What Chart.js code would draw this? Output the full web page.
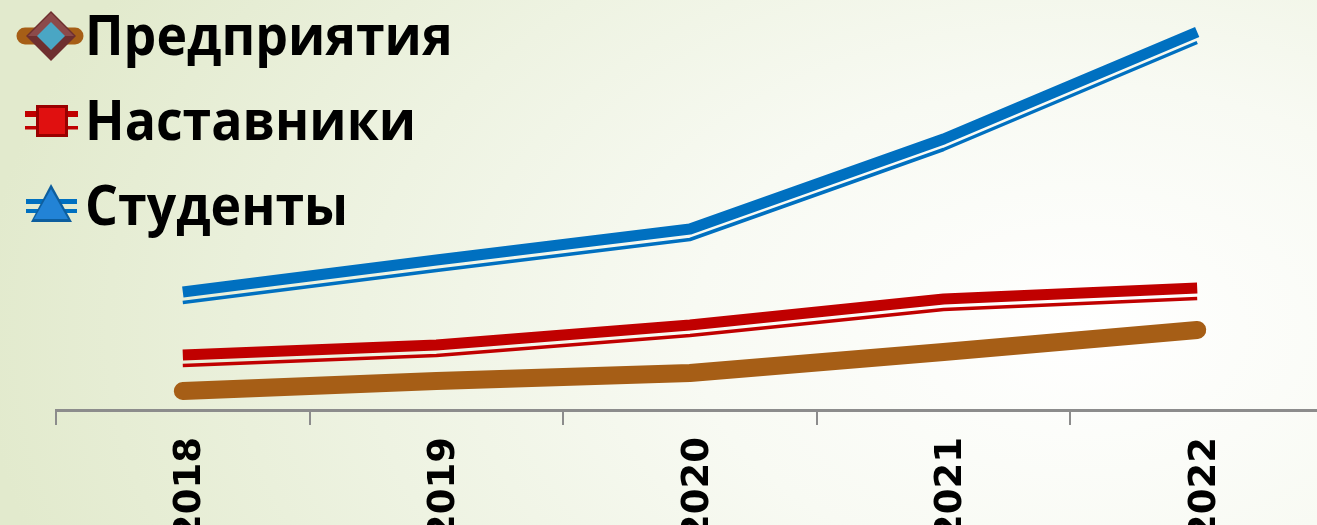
<!DOCTYPE html>
<html>
<head>
<meta charset="utf-8">
<script src="https://cdn.jsdelivr.net/npm/chart.js@4"></script>
<style>
    html, body { margin: 0; padding: 0; }
    body {
        width: 1317px; height: 525px; overflow: hidden;
        background: radial-gradient(ellipse 1100px 700px at 1080px 330px, #ffffff 0%, #f8faf3 35%, #eef3e2 65%, #e2eacd 100%);
    }
    #wrap { position: relative; width: 1317px; height: 525px; overflow: hidden; }
</style>
</head>
<body>
<div id="wrap"><canvas id="chartCanvas" width="1340" height="560"></canvas></div>
<script>
var years = ["2018", "2019", "2020", "2021", "2022"];
var enterprises = [19, 29, 37, 58, 80];      // Предприятия
var mentors = [55, 65, 85, 111, 122];        // Наставники
var students = [118, 150, 181, 271, 378];    // Студенты

var colors = {
    brown: 'rgb(166, 94, 22)',
    red: 'rgb(192, 0, 0)',
    blue: 'rgb(0, 112, 192)'
};

// thin second line under the thick one
var doubleLine = {
    id: 'doubleLine',
    afterDatasetsDraw: function (chart) {
        var ctx = chart.ctx;
        chart.data.datasets.forEach(function (ds, i) {
            if (!ds.thinLine) return;
            var pts = chart.getDatasetMeta(i).data;
            ctx.save();
            ctx.strokeStyle = ds.borderColor;
            ctx.lineWidth = 3.5;
            ctx.lineJoin = 'round';
            ctx.beginPath();
            pts.forEach(function (p, j) {
                if (j === 0) ctx.moveTo(p.x, p.y + 10.5);
                else ctx.lineTo(p.x, p.y + 10.5);
            });
            ctx.stroke();
            ctx.restore();
        });
    }
};

// legend in top-left corner, drawn over chart area
var cornerLegend = {
    id: 'cornerLegend',
    afterDraw: function (chart) {
        var ctx = chart.ctx;
        var ds = chart.data.datasets;
        ctx.save();

        // Предприятия
        ctx.strokeStyle = colors.brown;
        ctx.lineWidth = 17;
        ctx.lineCap = 'round';
        ctx.beginPath(); ctx.moveTo(25, 36); ctx.lineTo(75, 36); ctx.stroke();
        ctx.fillStyle = '#6e2f2f';
        ctx.beginPath(); ctx.moveTo(51, 11); ctx.lineTo(76, 36); ctx.lineTo(51, 61); ctx.lineTo(26, 36); ctx.closePath(); ctx.fill();
        ctx.fillStyle = '#8c4a4a';
        ctx.beginPath(); ctx.moveTo(51, 13); ctx.lineTo(74, 36); ctx.lineTo(51, 36); ctx.lineTo(28, 36); ctx.closePath(); ctx.fill();
        ctx.fillStyle = '#4aa6c4';
        ctx.beginPath(); ctx.moveTo(51, 22); ctx.lineTo(65, 36); ctx.lineTo(51, 50); ctx.lineTo(37, 36); ctx.closePath(); ctx.fill();

        // Наставники
        ctx.fillStyle = colors.red;
        ctx.fillRect(25, 111, 53, 6);
        ctx.fillRect(25, 126, 53, 3.5);
        ctx.fillStyle = '#9a0000';
        ctx.fillRect(36, 105, 32, 32);
        ctx.fillStyle = '#e01010';
        ctx.fillRect(39, 108, 26, 26);

        // Студенты
        ctx.fillStyle = colors.blue;
        ctx.fillRect(26, 199, 51, 5);
        ctx.fillRect(26, 209, 51, 4);
        ctx.fillStyle = '#0d5e9e';
        ctx.beginPath(); ctx.moveTo(51, 184); ctx.lineTo(72, 222); ctx.lineTo(31, 222); ctx.closePath(); ctx.fill();
        ctx.fillStyle = '#2283d6';
        ctx.beginPath(); ctx.moveTo(51, 189); ctx.lineTo(68, 219); ctx.lineTo(34, 219); ctx.closePath(); ctx.fill();

        ctx.fillStyle = '#000';
        ctx.font = 'bold 56px "Open Sans"';
        ctx.textBaseline = 'alphabetic';
        var rows = [55, 140, 225];
        ds.forEach(function (d, i) {
            ctx.save();
            ctx.translate(85, rows[i]);
            ctx.scale(0.925, 1);
            ctx.fillText(d.label, 0, 0);
            ctx.restore();
        });
        ctx.restore();
    }
};

window.onload = function () {
    var ctx = document.getElementById("chartCanvas").getContext("2d");

    new Chart(ctx, {
        type: "line",
        data: {
            labels: years,
            datasets: [
                {
                    label: "Предприятия",
                    data: enterprises,
                    borderColor: colors.brown,
                    borderWidth: 18,
                    borderCapStyle: 'round',
                    borderJoinStyle: 'round',
                    pointRadius: 0,
                    fill: false
                },
                {
                    label: "Наставники",
                    data: mentors,
                    borderColor: colors.red,
                    borderWidth: 11,
                    borderCapStyle: 'butt',
                    borderJoinStyle: 'round',
                    pointRadius: 0,
                    fill: false,
                    thinLine: true
                },
                {
                    label: "Студенты",
                    data: students,
                    borderColor: colors.blue,
                    borderWidth: 11,
                    borderCapStyle: 'butt',
                    borderJoinStyle: 'round',
                    pointRadius: 0,
                    fill: false,
                    thinLine: true
                }
            ]
        },
        options: {
            responsive: false,
            animation: false,
            devicePixelRatio: 1,
            layout: { padding: { left: 56, right: 16, top: 0, bottom: 0 } },
            plugins: {
                legend: { display: false },
                tooltip: { enabled: false }
            },
            scales: {
                x: {
                    offset: true,
                    afterFit: function (scale) { scale.height = 150; },
                    grid: {
                        offset: true,
                        drawOnChartArea: false,
                        tickLength: 15,
                        color: '#8c8c8c',
                        lineWidth: 2
                    },
                    border: { color: '#8c8c8c', width: 3 },
                    ticks: {
                        minRotation: 90,
                        maxRotation: 90,
                        padding: 12,
                        labelOffset: 8,
                        color: '#000',
                        font: { family: '"DejaVu Sans"', size: 37, weight: 'bold' }
                    }
                },
                y: {
                    display: false,
                    min: 0,
                    max: 410
                }
            }
        },
        plugins: [doubleLine, cornerLegend]
    });
};
</script>
</body>
</html>
